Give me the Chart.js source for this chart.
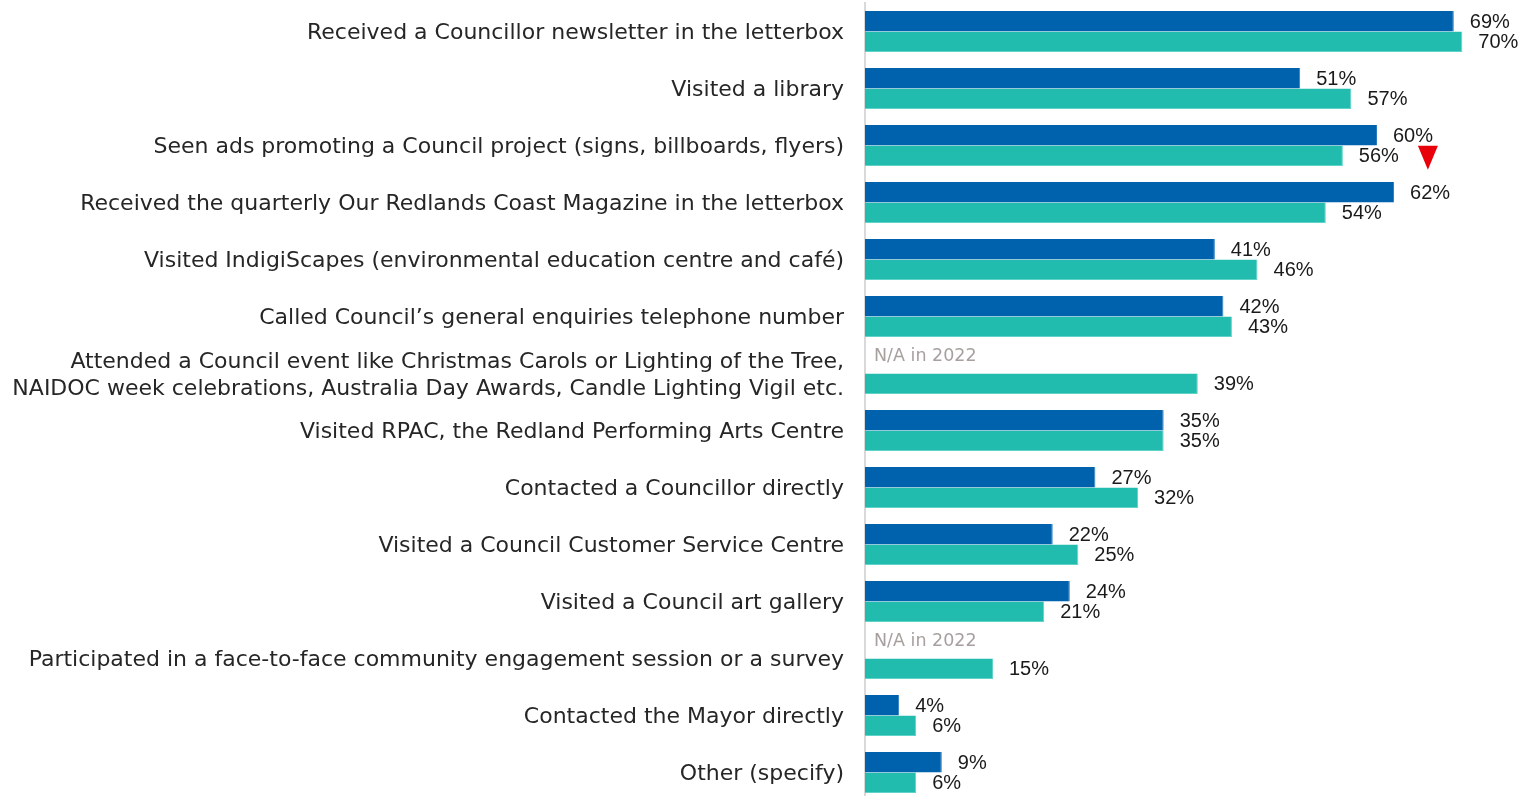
<!DOCTYPE html>
<html>
<head>
<meta charset="utf-8">
<script src="https://cdn.jsdelivr.net/npm/chart.js@4/dist/chart.umd.min.js"></script>
<style>
  html, body { margin: 0; padding: 0; background: #fff; overflow: hidden; }
  #wrap { position: absolute; left: 0; top: 0; }
</style>
</head>
<body>
<div id="wrap"><canvas id="c" width="1519" height="802"></canvas></div>
<script>
// Council services and channels used, by survey year
const categories = [
  'Received a Councillor newsletter in the letterbox',
  'Visited a library',
  'Seen ads promoting a Council project (signs, billboards, flyers)',
  'Received the quarterly Our Redlands Coast Magazine in the letterbox',
  'Visited IndigiScapes (environmental education centre and café)',
  'Called Council\u2019s general enquiries telephone number',
  ['Attended a Council event like Christmas Carols or Lighting of the Tree,', 'NAIDOC week celebrations, Australia Day Awards, Candle Lighting Vigil etc.'],
  'Visited RPAC, the Redland Performing Arts Centre',
  'Contacted a Councillor directly',
  'Visited a Council Customer Service Centre',
  'Visited a Council art gallery',
  'Participated in a face-to-face community engagement session or a survey',
  'Contacted the Mayor directly',
  'Other (specify)'
];
const values2022 = [69, 51, 60, 62, 41, 42, null, 35, 27, 22, 24, null, 4, 9];
const values2023 = [70, 57, 56, 54, 46, 43, 39, 35, 32, 25, 21, 15, 6, 6];
// true where the later year is significantly lower
const sigDecrease = [false, false, true, false, false, false, false, false, false, false, false, false, false, false];
const naText = 'N/A in 2022';

const FONT = '"DejaVu Sans", sans-serif';
const NUM_FONT = '"Liberation Sans", Arial, sans-serif';

const valueLabels = {
  id: 'valueLabels',
  afterDatasetsDraw(chart) {
    const ctx = chart.ctx;
    const x0 = chart.scales.x.getPixelForValue(0);
    ctx.save();
    ctx.textBaseline = 'middle';
    ctx.textAlign = 'left';
    chart.data.datasets.forEach((ds, di) => {
      const meta = chart.getDatasetMeta(di);
      meta.data.forEach((bar, i) => {
        const v = ds.data[i];
        if (v === null) return;
        ctx.font = '20px ' + NUM_FONT;
        ctx.fillStyle = '#1a1a1a';
        const txt = v + '%';
        const lx = bar.x + 16;
        ctx.fillText(txt, lx, bar.y + 1);
        if (di === 1 && sigDecrease[i]) {
          const w = ctx.measureText(txt).width;
          const tx = lx + w + 19;
          ctx.fillStyle = '#e8000b';
          ctx.beginPath();
          ctx.moveTo(tx, bar.y - 10);
          ctx.lineTo(tx + 20, bar.y - 10);
          ctx.lineTo(tx + 10, bar.y + 14);
          ctx.closePath();
          ctx.fill();
        }
      });
    });
    // note for categories missing from the earlier year
    const teal = chart.getDatasetMeta(1);
    values2022.forEach((v, i) => {
      if (v !== null) return;
      const bar = teal.data[i];
      const y = bar.y - bar.height;
      ctx.font = '17.5px ' + FONT;
      ctx.fillStyle = '#a7a09e';
      ctx.fillText(naText, x0 + 9, y - 7);
    });
    ctx.restore();
  }
};

new Chart(document.getElementById('c'), {
  type: 'bar',
  data: {
    labels: categories,
    datasets: [
      { label: '2022', data: values2022, backgroundColor: '#0061ad', borderColor: '#2a7cc0', borderWidth: { right: 1, top: 0, bottom: 0, left: 0 } },
      { label: '2023', data: values2023, backgroundColor: '#21bcae', borderColor: '#5fd3c8', borderWidth: { right: 1, top: 0, bottom: 1, left: 0 } }
    ]
  },
  options: {
    indexAxis: 'y',
    responsive: false,
    animation: false,
    layout: { padding: { top: 3, right: 14, bottom: 1, left: 0 } },
    datasets: { bar: { categoryPercentage: 0.72, barPercentage: 1 } },
    plugins: { legend: { display: false }, tooltip: { enabled: false } },
    scales: {
      x: { display: false, min: 0, max: 75 },
      y: {
        afterFit(scale) {
          scale.width = 865;
          scale.paddingTop = 0;
          scale.paddingBottom = 0;
        },
        grid: { display: false, drawTicks: false },
        border: { display: true, color: '#d9d9d9', width: 2 },
        ticks: {
          autoSkip: false,
          padding: 21,
          labelOffset: 2,
          color: '#262626',
          font: { family: FONT, size: 22, lineHeight: 1.23 }
        }
      }
    }
  },
  plugins: [valueLabels]
});
</script>
</body>
</html>
